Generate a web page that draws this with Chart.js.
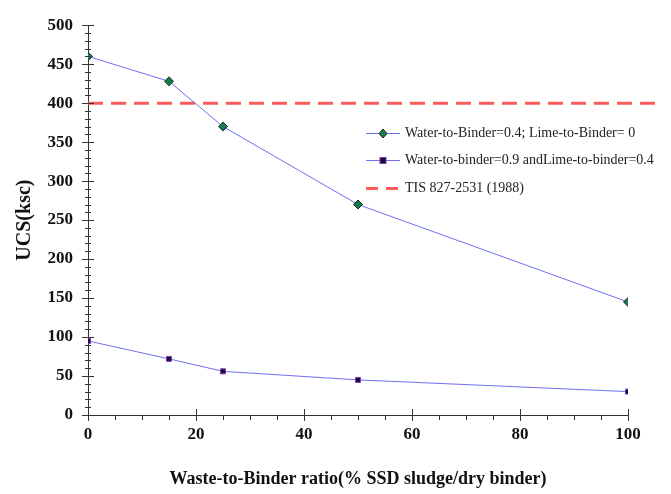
<!DOCTYPE html>
<html>
<head>
<meta charset="UTF-8">
<script src="https://cdn.jsdelivr.net/npm/chart.js"></script>
<style>
  html, body { margin: 0; padding: 0; background: #fff; }
  #wrap { position: relative; width: 671px; height: 494px; overflow: hidden; }
  #legend { position: absolute; left: 366px; top: 119px; font-family: 'Liberation Serif', serif; font-size: 14px; color: #222; white-space: nowrap; }
  .item { display: flex; align-items: center; height: 27.5px; }
  .item canvas { margin-right: 5px; }
</style>
</head>
<body>
<div id="wrap">
  <canvas id="c" width="671" height="494"></canvas>
  <div id="legend"></div>
</div>
<script>
// Abfall-zu-Bindemittel-Verhältnis (%)
const ratio = [0, 15, 25, 50, 100];
const ucsW04 = [460, 428, 370, 270, 145];
const ucsW09 = [95, 72, 56, 45, 30];
const tisLimitX = [0, 105];
const tisLimit = [400, 400];
const seriesNames = ['Water-to-Binder=0.4; Lime-to-Binder= 0', 'Water-to-binder=0.9 andLime-to-binder=0.4', 'TIS 827-2531 (1988)'];

const lineBlue = '#6f6ff0';
const redDash = '#ff5a5a';

const pts = (xs, ys) => xs.map((x, i) => ({ x: x, y: ys[i] }));

// Haupt- und Nebenstriche, die die Achse kreuzen
const tickPlugin = {
  id: 'crossTicks',
  afterDraw(chart) {
    const { ctx, chartArea: a, scales: { x, y } } = chart;
    ctx.save();
    ctx.strokeStyle = '#333';
    ctx.lineWidth = 1;
    for (let v = 0; v <= 500; v += 10) {
      const py = Math.round(y.getPixelForValue(v)) + 0.5;
      const big = v % 50 === 0;
      ctx.beginPath();
      ctx.moveTo(a.left - (big ? 6 : 3), py);
      ctx.lineTo(a.left + (big ? 6 : 3), py);
      ctx.stroke();
    }
    for (let v = 0; v <= 100; v += 5) {
      const px = Math.round(x.getPixelForValue(v)) + 0.5;
      const big = v % 20 === 0;
      ctx.beginPath();
      ctx.moveTo(px, a.bottom - (big ? 6 : 0));
      ctx.lineTo(px, a.bottom + (big ? 6 : 5));
      ctx.stroke();
    }
    ctx.restore();
  }
};

const serif = 'Liberation Serif';

new Chart(document.getElementById('c'), {
  type: 'scatter',
  data: {
    datasets: [
      {
        label: seriesNames[0],
        data: pts(ratio, ucsW04),
        showLine: true,
        borderColor: lineBlue,
        borderWidth: 1,
        pointStyle: 'rectRot',
        pointRadius: 4.5,
        pointBackgroundColor: '#157a4e',
        pointBorderColor: '#1b2a20',
        pointBorderWidth: 1
      },
      {
        label: seriesNames[1],
        data: pts(ratio, ucsW09),
        showLine: true,
        borderColor: lineBlue,
        borderWidth: 1,
        pointStyle: 'rect',
        pointRadius: 3.5,
        pointBackgroundColor: '#1a0a30',
        pointBorderColor: '#7a3ac0',
        pointBorderWidth: 1
      },
      {
        label: seriesNames[2],
        data: pts(tisLimitX, tisLimit),
        showLine: true,
        borderColor: redDash,
        borderWidth: 3,
        borderDash: [15, 8],
        pointRadius: 0,
        clip: false
      }
    ]
  },
  options: {
    responsive: false,
    animation: false,
    layout: { padding: { top: 22, right: 43, left: 9, bottom: 0 } },
    plugins: { legend: { display: false }, tooltip: { enabled: false } },
    scales: {
      x: {
        type: 'linear',
        min: 0, max: 100,
        afterFit(s) { s.height = 79; },
        grid: { display: false, drawTicks: false },
        border: { display: true, color: '#333', width: 1 },
        ticks: {
          stepSize: 20, padding: 9, color: '#111',
          font: { family: serif, size: 17, weight: 'bold' }
        },
        title: {
          display: true,
          text: 'Waste-to-Binder ratio(% SSD sludge/dry binder)',
          color: '#111',
          padding: { top: 12 },
          font: { family: serif, size: 18, weight: 'bold' }
        }
      },
      y: {
        min: 0, max: 500,
        afterFit(s) { s.width = 79; },
        grid: { display: false, drawTicks: false },
        border: { display: true, color: '#333', width: 1 },
        ticks: {
          stepSize: 50, padding: 15, color: '#111',
          font: { family: serif, size: 17, weight: 'bold' }
        },
        title: {
          display: true,
          text: 'UCS(ksc)',
          color: '#111',
          padding: { bottom: 4 },
          font: { family: serif, size: 20, weight: 'bold' }
        }
      }
    }
  },
  plugins: [tickPlugin]
});

// Legende als HTML mit kleinen Beispiel-Canvas
const legendEl = document.getElementById('legend');
const legendStyles = [
  { color: lineBlue, w: 1, dash: [], marker: 'diamond' },
  { color: lineBlue, w: 1, dash: [], marker: 'square' },
  { color: redDash, w: 3, dash: [12, 8], marker: null }
];
seriesNames.forEach((name, i) => {
  const row = document.createElement('div');
  row.className = 'item';
  const cv = document.createElement('canvas');
  cv.width = 34; cv.height = 12;
  const g = cv.getContext('2d');
  const st = legendStyles[i];
  g.strokeStyle = st.color; g.lineWidth = st.w; g.setLineDash(st.dash);
  g.beginPath(); g.moveTo(0, 6.5); g.lineTo(34, 6.5); g.stroke();
  g.setLineDash([]);
  if (st.marker === 'diamond') {
    g.fillStyle = '#157a4e'; g.strokeStyle = '#1b2a20';
    g.beginPath(); g.moveTo(17, 2); g.lineTo(21, 6.5); g.lineTo(17, 11); g.lineTo(13, 6.5); g.closePath();
    g.fill(); g.stroke();
  } else if (st.marker === 'square') {
    g.fillStyle = '#1a0a30'; g.strokeStyle = '#7a3ac0';
    g.fillRect(14, 3.5, 6, 6); g.strokeRect(14, 3.5, 6, 6);
  }
  const tx = document.createElement('span');
  tx.textContent = name;
  row.appendChild(cv); row.appendChild(tx);
  legendEl.appendChild(row);
});
</script>
</body>
</html>
